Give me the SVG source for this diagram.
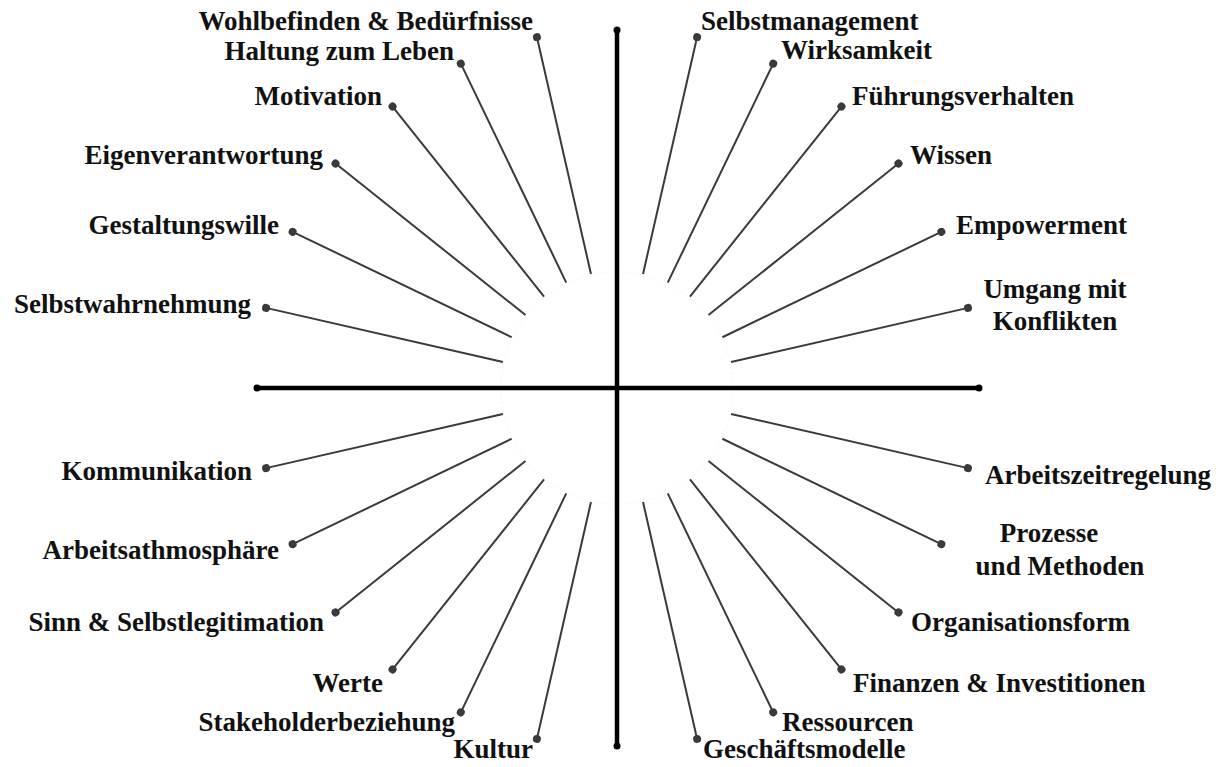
<svg xmlns="http://www.w3.org/2000/svg" width="1219" height="767" viewBox="0 0 1219 767">
  <style>
    .lbl { font-family: "Liberation Serif", "Times New Roman", serif; font-weight: bold; font-size: 27px; fill: #111; }
    .l { text-anchor: end; }
    .r { text-anchor: start; }
    .c { text-anchor: middle; }
    .axis { stroke: #000; stroke-width: 4.5; stroke-linecap: butt; }
    .axdot { fill: #000; }
    .spoke { stroke: #3a3a3a; stroke-width: 2; }
    .sdot { fill: #3a3a3a; }
  </style>
  <defs>
    <!-- one spoke pointing straight up from the centre; rotated into place below -->
    <g id="spoke">
      <line class="spoke" x1="617" y1="271" x2="617" y2="28"/>
      <circle class="sdot" cx="617" cy="28" r="4"/>
    </g>
  </defs>
  <rect width="1219" height="767" fill="#fff"/>

  <!-- faint inner ring where the spokes start -->
  <circle cx="617" cy="388" r="116" fill="none" stroke="#ececec" stroke-width="1" stroke-dasharray="1 3"/>

  <g id="connectors">
    <!-- upper right -->
    <use href="#spoke" transform="rotate(12.857 617 388)"/>
    <use href="#spoke" transform="rotate(25.714 617 388)"/>
    <use href="#spoke" transform="rotate(38.571 617 388)"/>
    <use href="#spoke" transform="rotate(51.429 617 388)"/>
    <use href="#spoke" transform="rotate(64.286 617 388)"/>
    <use href="#spoke" transform="rotate(77.143 617 388)"/>
    <!-- lower right -->
    <use href="#spoke" transform="rotate(102.857 617 388)"/>
    <use href="#spoke" transform="rotate(115.714 617 388)"/>
    <use href="#spoke" transform="rotate(128.571 617 388)"/>
    <use href="#spoke" transform="rotate(141.429 617 388)"/>
    <use href="#spoke" transform="rotate(154.286 617 388)"/>
    <use href="#spoke" transform="rotate(167.143 617 388)"/>
    <!-- lower left -->
    <use href="#spoke" transform="rotate(-102.857 617 388)"/>
    <use href="#spoke" transform="rotate(-115.714 617 388)"/>
    <use href="#spoke" transform="rotate(-128.571 617 388)"/>
    <use href="#spoke" transform="rotate(-141.429 617 388)"/>
    <use href="#spoke" transform="rotate(-154.286 617 388)"/>
    <use href="#spoke" transform="rotate(-167.143 617 388)"/>
    <!-- upper left -->
    <use href="#spoke" transform="rotate(-12.857 617 388)"/>
    <use href="#spoke" transform="rotate(-25.714 617 388)"/>
    <use href="#spoke" transform="rotate(-38.571 617 388)"/>
    <use href="#spoke" transform="rotate(-51.429 617 388)"/>
    <use href="#spoke" transform="rotate(-64.286 617 388)"/>
    <use href="#spoke" transform="rotate(-77.143 617 388)"/>
  </g>

  <g id="axes">
    <line class="axis" x1="617" y1="30" x2="617" y2="746"/>
    <line class="axis" x1="257" y1="388" x2="979" y2="388"/>
    <circle class="axdot" cx="617" cy="30" r="3.5"/>
    <circle class="axdot" cx="617" cy="746" r="3.5"/>
    <circle class="axdot" cx="257" cy="388" r="3.5"/>
    <circle class="axdot" cx="979" cy="388" r="3.5"/>
  </g>

  <!-- upper left labels -->
  <g id="n-wohlbefinden"><text class="lbl l" x="533" y="30">Wohlbefinden &amp; Bedürfnisse</text></g>
  <g id="n-haltung"><text class="lbl l" x="454" y="60">Haltung zum Leben</text></g>
  <g id="n-motivation"><text class="lbl l" x="382" y="105">Motivation</text></g>
  <g id="n-eigenverantwortung"><text class="lbl l" x="323" y="164">Eigenverantwortung</text></g>
  <g id="n-gestaltungswille"><text class="lbl l" x="279" y="234">Gestaltungswille</text></g>
  <g id="n-selbstwahrnehmung"><text class="lbl l" x="251" y="313">Selbstwahrnehmung</text></g>

  <!-- lower left labels -->
  <g id="n-kommunikation"><text class="lbl l" x="252" y="480">Kommunikation</text></g>
  <g id="n-arbeitsathmosphaere"><text class="lbl l" x="279" y="559">Arbeitsathmosphäre</text></g>
  <g id="n-sinn"><text class="lbl l" x="324" y="631">Sinn &amp; Selbstlegitimation</text></g>
  <g id="n-werte"><text class="lbl l" x="383" y="692">Werte</text></g>
  <g id="n-stakeholder"><text class="lbl l" x="455" y="731">Stakeholderbeziehung</text></g>
  <g id="n-kultur"><text class="lbl l" x="533" y="758">Kultur</text></g>

  <!-- upper right labels -->
  <g id="n-selbstmanagement"><text class="lbl r" x="701" y="30">Selbstmanagement</text></g>
  <g id="n-wirksamkeit"><text class="lbl r" x="781" y="59">Wirksamkeit</text></g>
  <g id="n-fuehrungsverhalten"><text class="lbl r" x="852" y="105">Führungsverhalten</text></g>
  <g id="n-wissen"><text class="lbl r" x="910" y="164">Wissen</text></g>
  <g id="n-empowerment"><text class="lbl r" x="956" y="234">Empowerment</text></g>
  <g id="n-konflikte">
    <text class="lbl c" x="1055" y="298">Umgang mit</text>
    <text class="lbl c" x="1055" y="330">Konflikten</text>
  </g>

  <!-- lower right labels -->
  <g id="n-arbeitszeit"><text class="lbl r" x="985" y="484">Arbeitszeitregelung</text></g>
  <g id="n-prozesse">
    <text class="lbl c" x="1049" y="542">Prozesse</text>
    <text class="lbl c" x="1060" y="575">und Methoden</text>
  </g>
  <g id="n-organisationsform"><text class="lbl r" x="911" y="631">Organisationsform</text></g>
  <g id="n-finanzen"><text class="lbl r" x="853" y="692">Finanzen &amp; Investitionen</text></g>
  <g id="n-ressourcen"><text class="lbl r" x="782" y="731">Ressourcen</text></g>
  <g id="n-geschaeftsmodelle"><text class="lbl r" x="703" y="758">Geschäftsmodelle</text></g>
</svg>
